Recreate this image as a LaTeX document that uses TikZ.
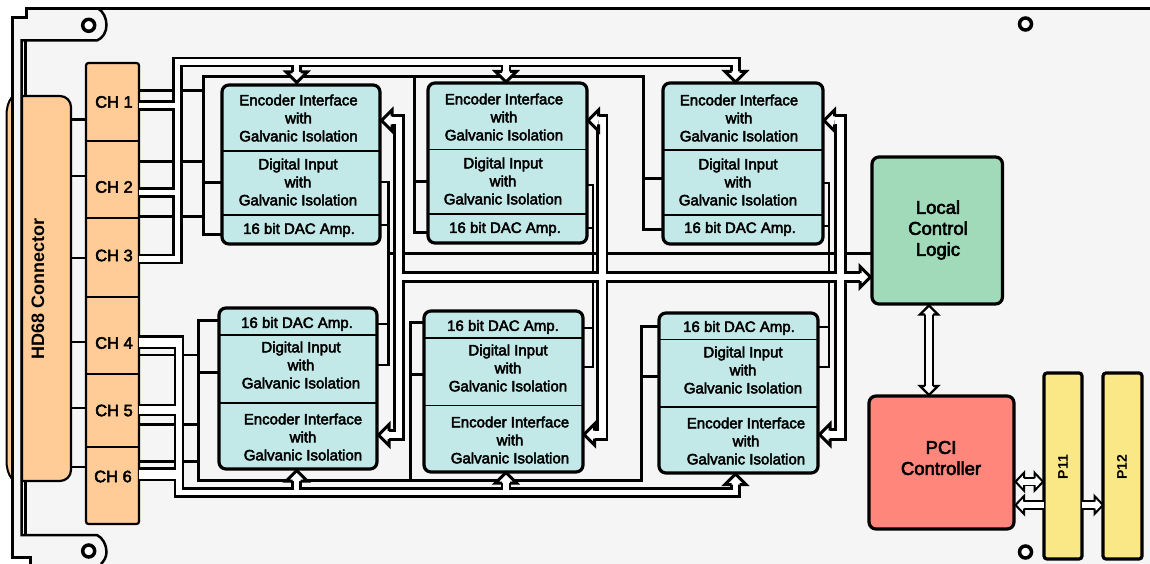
\documentclass[tikz,border=0pt]{standalone}
\usepackage{fontspec}
\setmainfont{Liberation Sans}
\newfontfamily\lblfont[FakeBold=3]{Liberation Sans}
\usetikzlibrary{fit}
\definecolor{panel}{HTML}{F5F5F5}
\definecolor{orangebox}{HTML}{FFCB96}
\definecolor{tealbox}{HTML}{C2E8E7}
\definecolor{greenbox}{HTML}{A0DAB8}
\definecolor{redbox}{HTML}{FF867B}
\definecolor{yellowbox}{HTML}{FAE785}
\tikzset{
  x=1pt,y=-1pt,
  box/.style={draw=black,line width=3.2,rounded corners=7,inner sep=0,outer sep=0},
  blockbox/.style={box,fill=tealbox},
  sepline/.style={line width=1.5,black},
  lbl/.style={font=\lblfont\fontsize{15}{18}\selectfont,align=center,inner sep=0,text=black},
  chlbl/.style={font=\lblfont\fontsize{16.5}{18}\selectfont,inner sep=0},
  biglbl/.style={font=\lblfont\fontsize{18.5}{21}\selectfont,align=center,inner sep=0},
  vlbl/.style={font=\bfseries\fontsize{#1}{#1}\selectfont,rotate=90,inner sep=0},
  frame/.style={line width=2.5,black},
  railline/.style={line width=3,black},
  thinline/.style={line width=2.4,black},
  busouter/.style={line width=10.5,black},
  businner/.style={line width=5.5,white},
  widestubouter/.style={line width=14,black},
  widestubinner/.style={line width=9,white},
  riserouter/.style={line width=12.5,black},
  riserinner/.style={line width=6.8,white},
  smallouter/.style={line width=10.5,black},
  smallinner/.style={line width=6,white},
  tinyouter/.style={line width=9.5,black},
  tinyinner/.style={line width=5.6,white},
  hole/.style={draw=black,line width=3.5,fill=white,circle,minimum size=12,inner sep=0},
  bustip/.pic={\filldraw[fill=white,draw=black,line width=3] (10.5,-4)--(10.5,-10.5)--(0,0)--(10.5,10.5)--(10.5,4);},
  smalltip/.pic={\filldraw[fill=white,draw=black,line width=2.4] (9,-4)--(9,-9)--(0,0)--(9,9)--(9,4);},
  tinytip/.pic={\filldraw[fill=white,draw=black,line width=2] (8.5,-3.5)--(8.5,-9)--(0,0)--(8.5,9)--(8.5,3.5);},
}
\begin{document}
\begin{tikzpicture}
\useasboundingbox (0,0) rectangle (1150,564);
\fill[white] (0,0) rectangle (1150,564);
% panel
\fill[panel] (27,9) -- (1150,9) -- (1150,564) -- (30,564) -- (30,557) -- (12,557) -- (12,18) -- (27,18) -- cycle;
% connector bump behind the frame
\filldraw[fill=orangebox,draw=black,line width=2] (12,97) .. controls (8,102) and (6.5,108) .. (6.5,116) -- (6.5,460) .. controls (6.5,468) and (8,474) .. (12,479);
% frame
\draw[frame,line width=3] (1150,8.5) -- (26,8.5) -- (26,17.5) -- (12,17.5) -- (12,557.5) -- (30,557.5) -- (30,564);
\draw[frame] (98,8.5) .. controls (103,11) and (106.5,18) .. (106.5,25) .. controls (106.5,32) and (103,38) .. (97,40.5) -- (21.7,40.5) -- (21.7,535) -- (97,535) .. controls (103,538) and (106.5,545) .. (106.5,552) .. controls (106.5,557) and (104,561) .. (101,564);
\draw[frame] (25.7,40.5) -- (25.7,535);
\node[hole] (h1) at (88.7,25.3) {};
\node[hole] (h2) at (88.7,551) {};
\node[hole] (h3) at (1025.5,24) {};
\node[hole] (h4) at (1025.5,552) {};
% HD68
\filldraw[fill=orangebox,draw=black,line width=2.2] (22,481) -- (22,96) [rounded corners=11] -- (71,96) -- (71,481) [sharp corners] -- (22,481) -- cycle;
\node[vlbl=18] (hd) at (38,289) {HD68 Connector};
\coordinate (hdr) at (71,0);
% CH column
\node[box,rounded corners=2.5,line width=2.2,fill=orangebox,fit={(86,63)(139,524)}] (chcol) {};
\foreach \y in {141,218,297,374,447}{\draw[line width=2.8] (chcol.west |- 0,\y) -- (chcol.east |- 0,\y);}
\foreach \y in {119.5,176,258,342,408,467}{\draw[thinline] (hdr |- 0,\y) -- (chcol.west |- 0,\y);}
\node[chlbl] (c1) at (114,102) {CH 1};
\node[chlbl] (c2) at (114,187) {CH 2};
\node[chlbl] (c3) at (114,255.5) {CH 3};
\node[chlbl] (c4) at (114,343) {CH 4};
\node[chlbl] (c5) at (114,410.5) {CH 5};
\node[chlbl] (c6) at (113,476.5) {CH 6};
% blocks
\node[blockbox,fit={(222,85)(380,244)}] (tl) {};
\node[blockbox,fit={(428,83)(587,243)}] (tm) {};
\node[blockbox,fit={(663,83)(823,244)}] (tr) {};
\node[blockbox,fit={(219,308)(377,469)}] (bl) {};
\node[blockbox,fit={(424,311)(583,472)}] (bm) {};
\node[blockbox,fit={(659,313)(818,473)}] (br) {};
\draw[sepline] (tl.west |- 0,151) -- (tl.east |- 0,151) (tl.west |- 0,215) -- (tl.east |- 0,215);
\draw[sepline] (tm.west |- 0,149.5) -- (tm.east |- 0,149.5) (tm.west |- 0,214) -- (tm.east |- 0,214);
\draw[sepline] (tr.west |- 0,150) -- (tr.east |- 0,150) (tr.west |- 0,215) -- (tr.east |- 0,215);
\draw[sepline] (bl.west |- 0,335) -- (bl.east |- 0,335) (bl.west |- 0,403) -- (bl.east |- 0,403);
\draw[sepline] (bm.west |- 0,338) -- (bm.east |- 0,338) (bm.west |- 0,405.5) -- (bm.east |- 0,405.5);
\draw[sepline] (br.west |- 0,339.5) -- (br.east |- 0,339.5) (br.west |- 0,407) -- (br.east |- 0,407);
\newcommand{\encl}{Encoder Interface\\with\\Galvanic Isolation}
\newcommand{\digl}{Digital Input\\with\\Galvanic Isolation}
\node[lbl] (tl1) at (298.5,118) {\encl};
\node[lbl] (tl2) at (298,182) {\digl};
\node[lbl] (tl3) at (299,230) {16 bit DAC Amp.};
\node[lbl] (tm1) at (504,117) {\encl};
\node[lbl] (tm2) at (503,181) {\digl};
\node[lbl] (tm3) at (505,229) {16 bit DAC Amp.};
\node[lbl] (tr1) at (739,118) {\encl};
\node[lbl] (tr2) at (738,182) {\digl};
\node[lbl] (tr3) at (740,229) {16 bit DAC Amp.};
\node[lbl] (bl1) at (297,324) {16 bit DAC Amp.};
\node[lbl] (bl2) at (301,365) {\digl};
\node[lbl] (bl3) at (303,437) {\encl};
\node[lbl] (bm1) at (503,327) {16 bit DAC Amp.};
\node[lbl] (bm2) at (508,368) {\digl};
\node[lbl] (bm3) at (510,440) {\encl};
\node[lbl] (br1) at (739,328) {16 bit DAC Amp.};
\node[lbl] (br2) at (743,370) {\digl};
\node[lbl] (br3) at (746,441) {\encl};
% right-hand boxes
\node[box,fill=greenbox,fit={(872,157)(1002.5,304)}] (lcl) {};
\node[biglbl] (lclt) at (938,230) {Local\\Control\\Logic};
\node[box,fill=redbox,fit={(869,396)(1014,529)}] (pci) {};
\node[biglbl] (pcit) at (941,458) {PCI\\Controller};
\node[box,rounded corners=3,fill=yellowbox,fit={(1044,373)(1082,559)}] (p11) {};
\node[box,rounded corners=3,fill=yellowbox,fit={(1103,373)(1142,559)}] (p12) {};
\node[vlbl=14] (p11t) at (1063,467) {P11};
\node[vlbl=14] (p12t) at (1122,467) {P12};
% tips
\coordinate (tTL) at (296.7,82.5);
\coordinate (tTM) at (506,82);
\coordinate (tTR) at (735.5,82);
\coordinate (tBL) at (296.7,470.5);
\coordinate (tBM) at (506,472.5);
\coordinate (tBR) at (735.5,474);
\coordinate (rTL) at (381.5,120.5);
\coordinate (rTM) at (588,120.5);
\coordinate (rTR) at (824,120.5);
\coordinate (rBL) at (378.5,435);
\coordinate (rBM) at (584,434.5);
\coordinate (rBR) at (819.5,434.5);
\coordinate (tLCL) at (870.5,277);
% black rails, top
\foreach \y in {90.7,161.7,216.7}{\draw[railline] (chcol.east |- 0,\y) -- (203.3,\y);}
\draw[railline,line width=3.2] (tl.west |- 0,234.5) -- (203.3,234.5) -- (203.3,76.5) -- (643.5,76.5) -- (643.5,229.5) -- (tr.west |- 0,229.5);
\draw[railline] (203.3,183) -- (tl.west |- 0,183);
\draw[railline] (414,76.5) -- (414,232) -- (tm.west |- 0,232);
\draw[railline] (414,182) -- (tm.west |- 0,182);
\draw[railline] (643.5,179) -- (tr.west |- 0,179);
% black rails, bottom
\foreach \y in {355,424.3,461.7}{\draw[thinline,line width=2.6] (chcol.east |- 0,\y) -- (198.5,\y);}
\draw[railline] (bl.west |- 0,320) -- (198.5,320) -- (198.5,480) -- (641,480) -- (641,326) -- (br.west |- 0,326);
\draw[railline] (198.5,372) -- (bl.west |- 0,372);
\draw[railline] (410,480) -- (410,322) -- (bm.west |- 0,322);
\draw[railline] (410,374) -- (bm.west |- 0,374);
\draw[railline] (641,376) -- (br.west |- 0,376);
% outputs to local logic
\draw[thinline] (tl.east |- 0,182) -- (388.3,182) -- (388.3,365) -- (bl.east |- 0,365);
\draw[thinline] (tl.east |- 0,225) -- (388.3,225) (388.3,324) -- (bl.east |- 0,324);
\draw[thinline] (tm.east |- 0,185) -- (593,185) -- (593,367) -- (bm.east |- 0,367);
\draw[thinline] (tm.east |- 0,228) -- (593,228) (593,328) -- (bm.east |- 0,328);
\draw[thinline] (tr.east |- 0,183) -- (829,183) -- (829,367) -- (br.east |- 0,367);
\draw[thinline] (tr.east |- 0,226) -- (829,226) (829,327) -- (br.east |- 0,327);
\draw[railline] (388.3,253) -- (lcl.west |- 0,253);
% buses
\newcommand{\topbus}{(chcol.east |- 0,105.5) -- (177.5,105.5) (chcol.east |- 0,192.5) -- (177.5,192.5) (chcol.east |- 0,259) -- (177.5,259) -- (177.5,62.2) -- (tTR |- 0,62.2) -- (tTR |- 0,72) (tTL |- 0,62.2) -- (tTL |- 0,72) (tTM |- 0,62.2) -- (tTM |- 0,72)}
\draw[busouter] \topbus;
\draw[businner] \topbus;
\newcommand{\botbus}{(178.8,342) -- (178.8,492.6) -- (tBR |- 0,492.6) -- (tBR |- 0,484) (tBL |- 0,492.6) -- (tBL |- 0,481) (tBM |- 0,492.6) -- (tBM |- 0,483)}
\draw[widestubouter] (chcol.east |- 0,342) -- (184,342);
\draw[widestubouter,line width=12.5] (chcol.east |- 0,410) -- (178.8,410);
\draw[widestubouter] (chcol.east |- 0,474) -- (178.8,474);
\draw[busouter] \botbus;
\draw[businner] \botbus;
\draw[widestubinner] (chcol.east |- 0,342) -- (181.8,342);
\draw[widestubinner,line width=7.8] (chcol.east |- 0,410) -- (178.8,410);
\draw[widestubinner] (chcol.east |- 0,474) -- (178.8,474);
\newcommand{\riserbus}{(392,120.5) -- (399,120.5) -- (399,435) -- (389,435) (598.5,120.5) -- (602.2,120.5) -- (602.2,434.5) -- (594.5,434.5) (834.5,120.5) -- (840.3,120.5) -- (840.3,434.5) -- (830,434.5) (399,277) -- (860,277)}
\draw[riserouter] \riserbus;
\draw[riserinner] \riserbus;
% arrow heads
\pic[rotate=90] at (tTL) {bustip};
\pic[rotate=90] at (tTM) {bustip};
\pic[rotate=90] at (tTR) {bustip};
\pic[rotate=-90] at (tBL) {bustip};
\pic[rotate=-90] at (tBM) {bustip};
\pic[rotate=-90] at (tBR) {bustip};
\pic at (rTL) {bustip};
\pic at (rTM) {bustip};
\pic at (rTR) {bustip};
\pic at (rBL) {bustip};
\pic at (rBM) {bustip};
\pic at (rBR) {bustip};
\pic[rotate=180] at (tLCL) {bustip};
% right-hand connectors
\draw[smallouter] (929,314) -- (929,386);
\draw[smallinner] (929,312) -- (929,388);
\pic[rotate=-90] at (929,305.5) {smalltip};
\pic[rotate=90] at (929,395) {smalltip};
\draw[tinyouter] (1022,481.7) -- (1036,481.7);
\draw[tinyinner] (1020,481.7) -- (1038,481.7);
\pic at (1015.5,481.7) {tinytip};
\pic[rotate=180] at (1043,481.7) {tinytip};
\draw[tinyouter] (1023,505) -- (p11.west |- 0,505);
\draw[tinyinner] (1021,505) -- (p11.west |- 0,505);
\pic at (1015.5,505) {tinytip};
\draw[tinyouter] (p11.east |- 0,505) -- (1095,505);
\draw[tinyinner] (p11.east |- 0,505) -- (1097,505);
\pic[rotate=180] at (1103,505) {tinytip};
\end{tikzpicture}
\end{document}
